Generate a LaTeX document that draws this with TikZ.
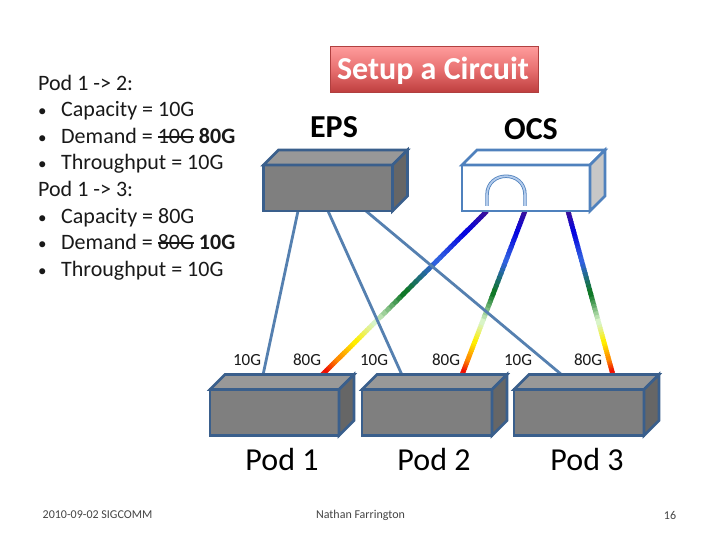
\documentclass[tikz,border=0pt]{standalone}
\usepackage{fontspec}
\setmainfont{Carlito}
\usetikzlibrary{calc,shadows}
\definecolor{edgeblue}{HTML}{5580B0}
\definecolor{boxedge}{HTML}{3A5F8C}
\definecolor{ocsedge}{HTML}{4F81BD}
\definecolor{loopfill}{HTML}{B4CCEC}
\definecolor{frontgrey}{HTML}{7F7F7F}
\definecolor{topgrey}{HTML}{989898}
\definecolor{sidegrey}{HTML}{666666}
\definecolor{foot}{HTML}{444444}
\definecolor{btntop}{HTML}{FF9C9C}
\definecolor{btnmid}{HTML}{E87070}
\definecolor{btnbot}{HTML}{BE3E3E}
\definecolor{btnedge}{HTML}{B04040}
\definecolor{cA}{HTML}{3A0F9A}
\definecolor{cB}{HTML}{0505E0}
\definecolor{cC}{HTML}{3060E0}
\definecolor{cD}{HTML}{107828}
\definecolor{cE}{HTML}{D8F4C8}
\definecolor{cF}{HTML}{FFEE00}
\definecolor{cG}{HTML}{FF9000}
\definecolor{cH}{HTML}{F01000}
\newsavebox{\strkbox}
\newcommand{\strk}[1]{\sbox{\strkbox}{#1}\rlap{\rule[0.25em]{\wd\strkbox}{0.09em}}\usebox{\strkbox}}
\newcommand{\rainbowline}[2]{%
  \foreach \ca/\cb/\ts/\te in {cA/cB/0/0.13,cB/cC/0.13/0.3,cC/cD/0.3/0.5,cD/cE/0.5/0.68,cE/cF/0.68/0.8,cF/cG/0.8/0.9,cG/cH/0.9/0.98,cH/cH/0.98/1.0}{%
    \foreach \k in {0,...,7}{%
      \pgfmathtruncatemacro{\pc}{\k*100/7}%
      \pgfmathsetmacro{\tA}{\ts+(\te-\ts)*\k/8}%
      \pgfmathsetmacro{\tB}{min(1,\ts+(\te-\ts)*(\k+1.4)/8)}%
      \draw[rainbowstroke,color=\cb!\pc!\ca] ($(#1)!\tA!(#2)$) -- ($(#1)!\tB!(#2)$);
    }%
  }%
}
% name, x, y of front-left-top corner, width, height, three fills, edge
\newcommand{\boxunit}[8]{%
  \node[frontface,draw=#8,fill=#5,minimum width=#4,minimum height=46] (#1) at (#2+#4/2,#3+23) {};
  \draw[faceline,draw=#8,fill=#6] (#1.north west) -- ++(15,-15) -- ++(#4,0) -- (#1.north east) -- cycle;
  \draw[faceline,draw=#8,fill=#7] (#1.north east) -- ++(15,-15) -- ++(0,46) -- (#1.south east) -- cycle;
}
\tikzset{
  frontface/.style={rectangle,line width=2.6pt,inner sep=0pt,outer sep=0pt},
  faceline/.style={line width=2.6pt,line join=miter},
  fibre/.style={edgeblue,line width=2.8pt},
  rainbowstroke/.style={line width=4.8pt},
  listtext/.style={anchor=base west,font=\fontsize{22}{26}\selectfont,inner sep=0pt,text=black!90},
  speed/.style={anchor=base,font=\fontsize{17}{20}\selectfont,inner sep=0pt,text=black!90},
  podlabel/.style={font=\fontsize{32}{38}\selectfont,inner sep=0pt},
  headlabel/.style={font=\bfseries\fontsize{32}{38}\selectfont,inner sep=0pt},
  footer/.style={font=\fontsize{12}{14}\selectfont,text=foot,inner sep=0pt}
}
\newcommand{\blt}{{\fontsize{17}{20}\selectfont•}}
\begin{document}
\begin{tikzpicture}[x=1pt,y=-1pt]
\useasboundingbox (0,0) rectangle (720,540);
\fill[white] (0,0) rectangle (720,540);

% connector end points
\coordinate (ea) at (298,211); \coordinate (eb) at (328,211); \coordinate (ec) at (366,211);
\coordinate (oa) at (487,211); \coordinate (ob) at (525,211); \coordinate (oc) at (568,211);
\coordinate (pa) at (263,375); \coordinate (pb) at (322,375);
\coordinate (qa) at (402,375); \coordinate (qb) at (462,375);
\coordinate (ra) at (562,375); \coordinate (rb) at (613,375);

% connectors
\rainbowline{oa}{pb}
\rainbowline{ob}{qb}
\rainbowline{oc}{rb}
\draw[fibre] (ea) -- (pa);
\draw[fibre] (eb) -- (qa);
\draw[fibre] (ec) -- (ra);

% units
\boxunit{eps}{263.5}{165}{129}{frontgrey}{topgrey}{sidegrey}{boxedge}
\boxunit{ocs}{462}{165}{128}{white}{white}{black!22}{ocsedge}
\boxunit{pod1}{210}{389.5}{129}{frontgrey}{topgrey}{sidegrey}{boxedge}
\boxunit{pod2}{362}{389.5}{130}{frontgrey}{topgrey}{sidegrey}{boxedge}
\boxunit{pod3}{514}{389.5}{130}{frontgrey}{topgrey}{sidegrey}{boxedge}

% optical loop
\coordinate (la) at (487,206); \coordinate (lb) at (525,206);
\coordinate (lc) at (487,195); \coordinate (ld) at (525,195);
\draw[ocsedge,line width=3.4pt] (la) -- (lc) .. controls +(0,-25) and +(0,-25) .. (ld) -- (lb);
\draw[loopfill,line width=1.8pt] (la) -- (lc) .. controls +(0,-25) and +(0,-25) .. (ld) -- (lb);

% button
\node[rectangle,draw=btnedge,line width=0.8pt,top color=btntop,bottom color=btnbot,middle color=btnmid,minimum width=208,minimum height=46,inner sep=0pt] (btn) at (434.5,69.5) {};
\node[font=\bfseries\fontsize{32}{38}\selectfont,text=white,inner sep=0pt] (btntext) at (433,71) {Setup a Circuit};

% headings
\node[headlabel] (epstext) at (334,127) {EPS};
\node[headlabel] (ocstext) at (531,129) {OCS};

% list
\node[listtext] (l1) at (38,90.5) {Pod 1 -> 2:};
\node[listtext] (b2) at (38,117) {\blt}; \node[listtext] (l2) at (61,117) {Capacity = 10G};
\node[listtext] (b3) at (38,143.5) {\blt}; \node[listtext] (l3) at (61,143.5) {Demand = \strk{10G} \textbf{80G}};
\node[listtext] (b4) at (38,170) {\blt}; \node[listtext] (l4) at (61,170) {Throughput = 10G};
\node[listtext] (l5) at (38,196.5) {Pod 1 -> 3:};
\node[listtext] (b6) at (38,223) {\blt}; \node[listtext] (l6) at (61,223) {Capacity = 80G};
\node[listtext] (b7) at (38,249.5) {\blt}; \node[listtext] (l7) at (61,249.5) {Demand = \strk{80G} \textbf{10G}};
\node[listtext] (b8) at (38,276) {\blt}; \node[listtext] (l8) at (61,276) {Throughput = 10G};

% speeds
\node[speed] (s1) at (247,365) {10G};
\node[speed] (s2) at (307,365) {80G};
\node[speed] (s3) at (374,365) {10G};
\node[speed] (s4) at (446,365) {80G};
\node[speed] (s5) at (518,365) {10G};
\node[speed] (s6) at (588,365) {80G};

% pod names
\node[podlabel] (n1) at (282,459) {Pod 1};
\node[podlabel] (n2) at (434,459) {Pod 2};
\node[podlabel] (n3) at (587,459) {Pod 3};

% footer
\node[footer] (f1) at (97.5,515) {2010-09-02 SIGCOMM};
\node[footer] (f2) at (360.5,515) {Nathan Farrington};
\node[footer] (f3) at (670,515) {16};
\end{tikzpicture}
\end{document}
